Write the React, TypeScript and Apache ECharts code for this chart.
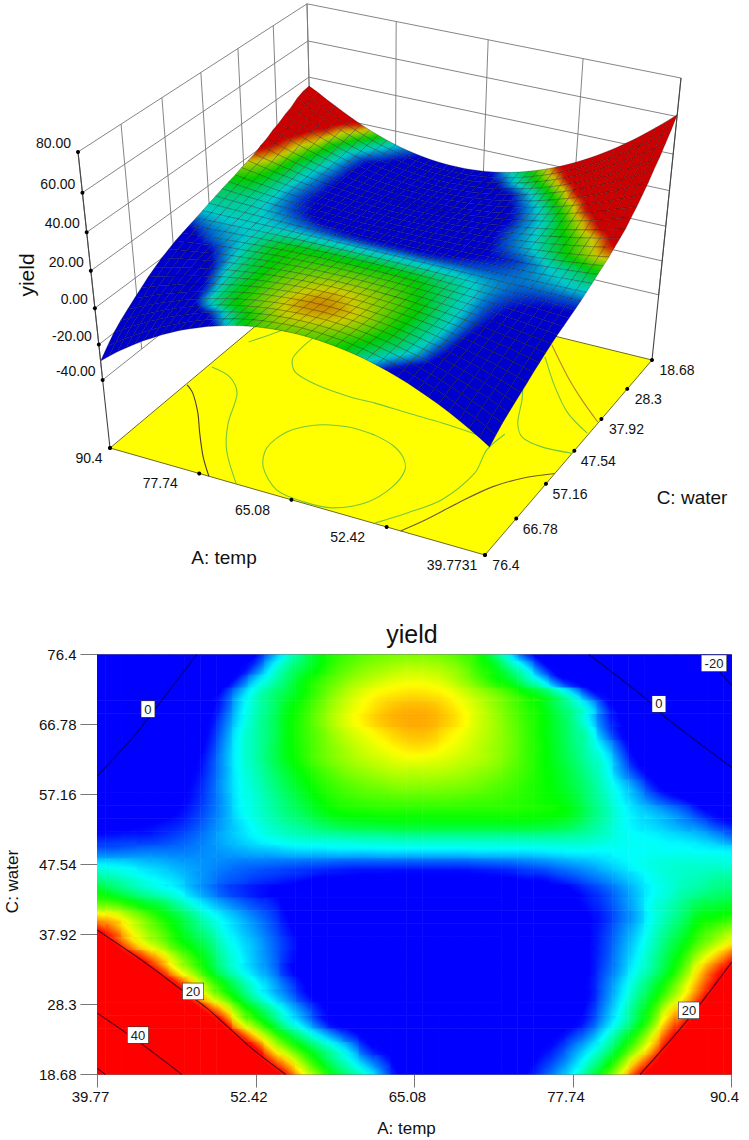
import React, { useEffect, useRef } from "react";
import * as echarts from "echarts";

// Axis ticks
const tempTicks = [39.77, 52.42, 65.08, 77.74, 90.4];
const waterTicks = [18.68, 28.3, 37.92, 47.54, 57.16, 66.78, 76.4];
const yieldTicks = [-40, -20, 0, 20, 40, 60, 80];
const tempTicks3D = ["39.7731", "52.42", "65.08", "77.74", "90.4"];
const tempLabelDx = [-33, -39, -39, -39, -21];
const waterLabelDx = [25, 21, 25, 24, 24, 24, 21];

// one column per temperature, from 39.77 to 90.4.
const shadeRows = [
[61,57,53,49.2,45.4,41.6,38,34.6,31.2,28,25,22.2,19.4,16.3,14,11.9,10.4,9.1,7,5,4.4,3.9,3.5,3.3,3.4,3.7,4.2,5,6,7.3,8.75,10.8,13.1,15.9,19.4,22,24.5,27,29.6,32.3,35],
[56.4,52.6,48.9,45.3,41.8,38.3,34.9,31.6,28.4,25.4,22.4,19.3,16.9,14.4,12.3,10.5,9,7.3,5.9,4.5,4,3.6,3.3,3.2,3.3,3.5,3.9,4.6,5.4,6.4,7.8,9.5,11.5,14,17,19.7,22.6,25.1,27.7,30.3,33.3],
[51.8,48.2,44.8,41.5,38.2,35,31.8,28.7,25.6,22.8,19.9,16.5,14.3,12.4,10.7,9.2,7.6,5.6,4.7,4.1,3.7,3.4,3.2,3.1,3.2,3.4,3.7,4.2,4.8,5.6,6.9,8.3,10,12.2,14.6,17.4,20.8,23.3,25.8,28.4,31.6],
[47.2,43.9,40.7,37.6,34.6,31.6,28.7,25.8,22.7,19.5,16.6,14,11.9,10.1,8.4,6.9,5.6,4.6,4,3.6,3.4,3.2,3.1,3,3,3.2,3.4,3.8,4.2,4.8,5.8,7,8.8,10.8,13,15.7,19.1,21.4,24,26.7,29.8],
[42.5,39.6,36.6,33.7,31,28.3,25.6,22.8,19.7,15.8,13.6,11.5,9.4,7.8,6,4.6,4,3.6,3.3,3.2,3.2,3.1,3.1,3.1,3.1,3.1,3.2,3.3,3.5,4,4.7,5.8,7.6,9.4,11.5,14,17.4,19.6,22.3,25.1,28],
[39,36.5,33.7,31,28.4,25.6,22.3,19.3,16.7,13.7,11.7,9.9,8.2,6.7,5.3,4.3,3.9,3.6,3.3,3.2,3.2,3.2,3.2,3.2,3.2,3.2,3.3,3.4,3.7,4,4.5,5.4,7.1,8.9,10.9,13,15.8,18,20.6,23.2,26.1],
[36,33.4,30.9,28.4,25.8,22.9,19,15.8,13.7,11.6,9.7,8.2,6.9,5.5,4.6,4,3.7,3.5,3.3,3.2,3.2,3.2,3.2,3.2,3.2,3.2,3.2,3.3,3.5,3.9,4.4,5.1,6.7,8.4,10.2,12,14.1,16.3,18.9,21.3,24.2],
[33,30.2,27.6,25,22.4,19.6,16.8,14.1,12.1,10.3,8.8,7.6,6.2,5,4.4,4,3.7,3.5,3.3,3.3,3.2,3.2,3.2,3.2,3.2,3.2,3.2,3.4,3.6,4,4.4,5.1,6.5,8,9.6,11.2,13,15.2,17.8,20.1,22.3],
[29.5,27,24.2,21.5,19,16.3,14.3,12.3,10.4,9,7.9,6.9,5.4,4.6,4.2,3.9,3.7,3.5,3.4,3.3,3.3,3.3,3.3,3.3,3.3,3.3,3.3,3.5,3.7,4,4.4,5,6.2,7.5,9,10.3,12,14,16.7,18.9,20.7],
[26.3,23.7,21,18.7,16.8,14.7,13.1,11.6,9.9,8.7,7.7,6.7,5.5,4.7,4.2,3.9,3.7,3.5,3.4,3.3,3.3,3.3,3.3,3.3,3.3,3.3,3.3,3.5,3.7,4,4.4,5,6,7.3,8.6,10,11.5,13.1,15.2,17,18.9],
[23,20.3,17.7,15.9,14.6,13.1,12,10.9,9.4,8.4,7.6,6.6,5.6,4.8,4.3,3.9,3.7,3.5,3.4,3.3,3.3,3.3,3.3,3.3,3.3,3.3,3.4,3.6,3.8,4.1,4.5,5,5.9,7.1,8.3,9.6,11,12.3,13.8,15.1,16.5],
[20,18.4,16.4,14.9,13.7,12.4,11.2,10.1,8.9,8,7.2,6.3,5.3,4.6,4.2,3.8,3.6,3.5,3.4,3.4,3.4,3.4,3.4,3.4,3.4,3.4,3.5,3.6,3.8,4.15,4.5,5,5.75,6.85,7.95,9.3,10.5,11.65,13,13.85,14.75],
[17,16.5,15.2,14,12.8,11.7,10.5,9.3,8.4,7.6,6.8,6,5,4.5,4.1,3.8,3.6,3.5,3.4,3.4,3.4,3.4,3.4,3.4,3.4,3.5,3.6,3.7,3.9,4.2,4.5,5,5.6,6.6,7.6,9,10,11,12.2,12.6,13],
[14,13.7,12.9,12,11.3,10.2,9.1,8.1,7.3,6.6,6,5.5,4.8,4.4,4.1,3.9,3.7,3.6,3.5,3.5,3.5,3.5,3.5,3.5,3.5,3.6,3.7,3.8,4,4.4,4.8,5.3,5.9,6.8,7.8,9,9.7,10.5,11.3,11.6,11.9],
[12.2,11.4,10.6,9.9,9.3,8.75,7.8,7,6.2,5.7,5.3,5,4.6,4.3,4,3.9,3.8,3.7,3.6,3.6,3.6,3.6,3.6,3.6,3.6,3.7,3.7,3.8,4,4.5,5,5.6,6.2,7,7.9,8.75,9.3,9.9,10.3,10.7,10.9],
[10.3,9.9,9.4,8.9,8.5,8.1,7.5,7,6.5,6.2,5.9,5.7,5.5,5.3,5,4.9,4.8,4.7,4.7,4.6,4.6,4.6,4.6,4.6,4.7,4.8,4.9,5.2,5.3,5.7,6.1,6.6,7.1,7.7,8.3,8.9,9.3,9.6,9.8,10.1,10.2],
[8.6,8.5,8.3,8,7.8,7.5,7.3,7.1,6.9,6.7,6.6,6.5,6.4,6.3,6.2,6.1,6,6,6,6,6,6,6,6,6.1,6.2,6.3,6.5,6.7,7,7.3,7.6,8,8.4,8.8,9.1,9.3,9.4,9.4,9.4,9.3],
[6.6,6.6,6.7,6.8,6.8,6.8,6.9,7.1,7.3,7.5,7.7,7.8,8,8.1,8.1,8.2,8.2,8.2,8.3,8.3,8.3,8.3,8.3,8.3,8.4,8.4,8.4,8.4,8.5,8.6,8.7,8.7,8.7,8.8,8.8,8.9,8.9,8.9,8.8,8.7,8.6],
[5.4,5.5,5.6,5.6,5.8,6.1,6.5,7,7.6,8.1,8.6,9,9.3,9.5,9.6,9.7,9.8,9.9,9.9,10,10,10,10,10,10,10,10,10,10,10,9.9,9.7,9.4,9,8.8,8.7,8.5,8.3,8,7.5,6.8],
[4.2,4.5,4.7,4.9,5.2,5.5,6,6.7,7.5,8.3,9,9.6,10.1,10.5,11,11.4,11.6,11.7,11.8,11.9,11.9,11.9,11.9,11.9,11.9,11.9,11.9,11.9,11.8,11.6,11.2,10.5,9.8,9,8.5,8.2,7.8,7.3,6.8,6,5.3],
[3.1,3.5,3.9,4.3,4.6,5,5.6,6.4,7.4,8.6,9.3,10,10.7,11.3,12,12.5,12.7,12.8,12.9,12.9,12.9,12.9,12.9,12.9,12.9,12.9,12.9,12.8,12.7,12.5,12,11,10,9,8.3,7.8,7.2,6.5,5.5,4.6,3.6],
[2.1,2.6,3.3,3.8,4.3,4.8,5.3,6.2,7.4,8.7,9.4,10.2,11,11.8,12.5,13,13.3,13.5,13.6,13.7,13.7,13.7,13.7,13.6,13.5,13.4,13.2,13,12.7,12.4,11.8,10.8,9.8,8.7,7.7,6.6,5.7,5,4.2,3.3,2.3],
[1,1.7,2.6,3.3,3.9,4.5,5.1,6.1,7.5,8.8,9.6,10.5,11.4,12.2,12.9,13.4,13.8,14.1,14.3,14.5,14.5,14.5,14.4,14.3,14.1,13.8,13.5,13.1,12.7,12.2,11.5,10.6,9.5,8.3,7,5.4,4.2,3.4,2.9,1.9,1.3],
[-0.3,1,1.9,2.6,3.3,4,4.8,5.9,7.4,8.9,9.8,10.8,11.8,12.6,13.3,13.9,14.4,14.7,15,15.2,15.2,15.2,15.1,14.9,14.6,14.3,13.8,13.3,12.7,12.1,11.3,10.3,9.2,7.4,5.8,4.5,3.5,2.8,2.2,1.2,0.5],
[-2,0.3,1.1,1.9,2.7,3.5,4.5,5.7,7.4,9,10,11.1,12.2,13,13.8,14.4,14.9,15.3,15.6,15.9,16,15.9,15.7,15.4,15.1,14.7,14.1,13.4,12.7,11.9,11,10,8.9,6.8,4.8,3.6,2.8,2.2,1.6,0.5,-1.3],
[-3.8,-1.2,0.2,1.3,2.3,3.2,4.2,5.4,7.2,9,10,11.1,12.3,13.1,13.9,14.6,15.2,15.7,16.1,16.5,16.7,16.6,16.2,15.8,15.3,14.8,14.2,13.4,12.7,11.8,10.8,9.7,8.1,6,4.2,3.1,2.1,1.1,-0.1,-1.6,-3.9],
[-5.7,-3,-1.1,0.6,1.9,3,4,5.1,6.9,8.9,10,11,12.3,13.2,14,14.9,15.6,16.1,16.6,17,17.2,17.1,16.6,16.1,15.5,14.9,14.2,13.4,12.6,11.7,10.6,9.4,6.9,5.1,3.8,2.5,1.2,-0.3,-2,-4,-6.6],
[-7.7,-5,-2.5,0,1.5,2.7,3.8,4.8,6.5,8.5,9.9,11,12.3,13.2,14.2,15.2,16,16.6,17.1,17.4,17.5,17.4,17,16.4,15.6,14.9,14.1,13.3,12.6,11.6,10.4,8.6,6.2,4.8,3.5,1.9,0.3,-1.8,-4,-6.7,-9.6],
[-9.8,-7,-4.2,-1.6,0.8,2,3,4.4,6,8.2,9.7,10.8,12.1,13,14,15,15.8,16.4,16.9,17.2,17.3,17.2,16.8,16.2,15.5,14.7,13.9,13.1,12.4,11.2,10,8.4,5.9,4,2.1,0.3,-1.7,-4,-6.7,-9.7,-13],
[-11.9,-9.1,-6.3,-3.6,-1,1.2,2.4,4,5.6,7.7,9.4,10.6,11.6,12.6,13.6,14.6,15.4,16,16.4,16.6,16.7,16.6,16.3,15.7,15,14.3,13.5,12.6,11.7,10.2,8.4,6,4.2,2.4,0.2,-1.5,-3.6,-6.3,-9.3,-12.7,-16.4],
[-14,-11.2,-8.4,-5.6,-2.9,0,1.4,2.6,4.2,6,8.2,9.7,11,12.3,13.2,14,14.7,15.2,15.6,15.9,16,15.9,15.5,14.8,13.9,12.9,12,10.4,8.6,6.2,4.4,2.9,1.4,0,-1.8,-3.7,-6,-8.9,-12.3,-15.9,-20],
[-16,-13.2,-10.4,-7.7,-5,-1.7,0.9,2,3.2,4.5,6.3,8.6,10.3,11.5,12.5,13.4,14,14.5,14.8,15.1,15.2,15.1,14.8,14.2,13.2,12.2,10.5,8.6,6,4.2,2.7,1.3,0,-1.8,-3.8,-6.1,-8.9,-12,-15.6,-19.8,-24.5],
[-18,-15.1,-12.2,-9.5,-6.8,-4.1,-1.2,0.6,2,3.6,5,7.2,9.2,10.8,12.2,13,13.5,13.9,14.1,14.3,14.3,14.3,14,13.5,12.8,11,8.5,5.9,4.2,2.9,1.3,-0.1,-1.8,-3.7,-6,-8.9,-12,-15.4,-19.2,-24,-30],
];

// Height of the 3D surface, same rows and columns.
const heightRows = [
[61,56.4,52.1,47.9,43.9,40.2,36.6,33.3,30.1,27.2,24.4,21.9,19.5,17.4,15.5,13.8,12.2,10.9,9.8,8.9,8.2,7.7,7.4,7.3,7.4,7.7,8.2,8.9,9.8,10.9,12.2,13.8,15.5,17.4,19.5,21.9,24.4,27,29.6,32.5,35],
[55.6,51.5,47.5,43.8,40.2,36.8,33.6,30.6,27.7,25.1,22.6,20.3,18.2,16.3,14.6,13,11.7,10.5,9.5,8.7,8.1,7.6,7.4,7.3,7.4,7.7,8.2,8.9,9.7,10.8,12,13.4,15,16.8,18.8,20.9,23.3,25.8,28.5,31.4,34.5],
[51,47.2,43.6,40.2,37,33.9,31,28.3,25.7,23.3,21.1,19,17.1,15.4,13.8,12.4,11.2,10.2,9.3,8.6,8,7.7,7.5,7.5,7.6,7.9,8.4,9,9.9,10.8,12,13.3,14.8,16.5,18.3,20.3,22.5,24.8,27.3,30,32.9],
[46.2,42.8,39.6,36.6,33.7,30.9,28.3,25.9,23.6,21.4,19.4,17.6,15.9,14.4,13,11.8,10.7,9.8,9,8.4,7.9,7.6,7.4,7.4,7.5,7.8,8.2,8.8,9.6,10.5,11.5,12.7,14.1,15.6,17.2,19,21,23.1,25.4,27.8,30.4],
[42.3,39.2,36.3,33.6,31,28.5,26.2,24,21.9,20,18.2,16.5,15,13.7,12.4,11.3,10.4,9.5,8.8,8.3,7.9,7.6,7.5,7.5,7.7,8,8.4,9,9.7,10.5,11.5,12.6,13.9,15.2,16.8,18.4,20.2,22.2,24.2,26.4,28.8],
[38,35.3,32.8,30.4,28.1,25.9,23.8,21.9,20.1,18.4,16.8,15.4,14,12.8,11.8,10.8,10,9.3,8.7,8.2,7.9,7.7,7.6,7.6,7.7,8,8.4,8.9,9.5,10.3,11.1,12.1,13.3,14.5,15.9,17.3,19,20.7,22.5,24.5,26.6],
[34.2,31.9,29.7,27.5,25.5,23.6,21.8,20.1,18.5,17,15.7,14.4,13.2,12.2,11.3,10.4,9.7,9.1,8.6,8.2,7.9,7.7,7.7,7.7,7.9,8.1,8.5,9,9.5,10.2,11,11.9,12.9,14.1,15.3,16.6,18.1,19.7,21.3,23.1,25],
[30.6,28.6,26.7,24.8,23.1,21.4,19.9,18.4,17,15.7,14.5,13.4,12.4,11.5,10.7,10,9.4,8.9,8.4,8.1,7.8,7.7,7.7,7.7,7.8,8.1,8.4,8.8,9.3,9.9,10.6,11.4,12.3,13.3,14.3,15.5,16.8,18.1,19.6,21.1,22.8],
[27.6,25.8,24.1,22.5,21,19.6,18.3,17,15.8,14.7,13.7,12.8,11.9,11.2,10.5,9.9,9.3,8.9,8.5,8.2,8,7.9,7.9,7.9,8,8.3,8.6,8.9,9.4,9.9,10.6,11.3,12,12.9,13.9,14.9,16,17.2,18.5,19.8,21.3],
[24.2,22.7,21.3,20,18.8,17.6,16.5,15.4,14.5,13.6,12.7,12,11.3,10.7,10.1,9.6,9.2,8.8,8.5,8.3,8.1,8,8,8.1,8.2,8.4,8.6,9,9.3,9.8,10.3,10.9,11.6,12.3,13.1,14,14.9,15.9,17,18.1,19.3],
[22,20.7,19.5,18.4,17.3,16.3,15.4,14.5,13.6,12.9,12.2,11.5,10.9,10.4,9.9,9.5,9.1,8.8,8.6,8.4,8.3,8.2,8.2,8.2,8.3,8.5,8.7,9,9.4,9.8,10.2,10.8,11.3,12,12.7,13.5,14.3,15.1,16.1,17.1,18.1],
[19.9,18.8,17.8,16.9,16,15.1,14.3,13.6,12.9,12.2,11.6,11.1,10.6,10.1,9.7,9.4,9.1,8.8,8.6,8.5,8.4,8.3,8.3,8.4,8.5,8.6,8.8,9.1,9.4,9.8,10.2,10.6,11.1,11.7,12.3,12.9,13.6,14.4,15.2,16,16.9],
[17.6,16.8,16,15.2,14.5,13.8,13.2,12.6,12.1,11.5,11.1,10.6,10.2,9.9,9.6,9.3,9.1,8.9,8.7,8.6,8.5,8.5,8.5,8.5,8.6,8.7,8.9,9.1,9.4,9.6,10,10.3,10.7,11.2,11.7,12.2,12.8,13.4,14,14.7,15.4],
[15.9,15.2,14.6,14,13.4,12.9,12.4,11.9,11.5,11.1,10.7,10.3,10,9.7,9.5,9.3,9.1,9,8.8,8.7,8.7,8.7,8.7,8.7,8.8,8.9,9,9.2,9.4,9.6,9.9,10.2,10.5,10.9,11.3,11.7,12.1,12.6,13.2,13.7,14.3],
[14.2,13.7,13.2,12.8,12.4,12,11.6,11.2,10.9,10.6,10.3,10.1,9.9,9.6,9.5,9.3,9.2,9.1,9,8.9,8.9,8.9,8.9,8.9,9,9,9.1,9.3,9.4,9.6,9.8,10,10.3,10.6,10.8,11.2,11.5,11.9,12.3,12.7,13.1],
[12.4,12.1,11.8,11.5,11.2,11,10.7,10.5,10.3,10.1,10,9.8,9.7,9.5,9.4,9.3,9.2,9.2,9.1,9.1,9.1,9.1,9.1,9.1,9.1,9.2,9.3,9.3,9.4,9.5,9.7,9.8,10,10.2,10.3,10.5,10.8,11,11.2,11.5,11.8],
[10.7,10.5,10.4,10.3,10.2,10.1,10,9.9,9.8,9.7,9.6,9.6,9.5,9.5,9.4,9.4,9.3,9.3,9.3,9.3,9.3,9.3,9.3,9.3,9.3,9.3,9.4,9.4,9.4,9.5,9.5,9.6,9.7,9.7,9.8,9.9,10,10.1,10.2,10.3,10.5],
[9,9.1,9.1,9.2,9.2,9.3,9.3,9.3,9.4,9.4,9.4,9.4,9.4,9.5,9.5,9.5,9.5,9.5,9.5,9.5,9.5,9.5,9.5,9.5,9.5,9.5,9.5,9.5,9.4,9.4,9.4,9.4,9.4,9.3,9.3,9.3,9.3,9.2,9.2,9.2,9.1],
[7.6,7.8,8,8.2,8.4,8.5,8.7,8.8,8.9,9.1,9.2,9.3,9.4,9.4,9.5,9.6,9.6,9.7,9.7,9.7,9.7,9.7,9.7,9.7,9.7,9.6,9.6,9.5,9.5,9.4,9.3,9.2,9.1,9,8.8,8.7,8.5,8.4,8.2,8,7.8],
[6.2,6.6,6.9,7.3,7.6,7.8,8.1,8.4,8.6,8.8,9,9.2,9.3,9.5,9.6,9.7,9.8,9.9,9.9,10,10,10,10,9.9,9.9,9.8,9.7,9.6,9.5,9.3,9.2,9,8.8,8.6,8.3,8.1,7.8,7.5,7.2,6.9,6.5],
[4.9,5.4,5.9,6.4,6.8,7.2,7.6,8,8.3,8.6,8.9,9.1,9.4,9.6,9.7,9.9,10,10.1,10.2,10.2,10.2,10.2,10.2,10.1,10.1,10,9.8,9.7,9.5,9.3,9,8.8,8.5,8.1,7.8,7.4,7,6.6,6.2,5.7,5.2],
[3.6,4.3,4.9,5.5,6.1,6.6,7.1,7.6,8,8.4,8.8,9.1,9.4,9.7,9.9,10.1,10.2,10.4,10.4,10.5,10.5,10.5,10.5,10.4,10.3,10.1,9.9,9.7,9.5,9.2,8.9,8.5,8.1,7.7,7.3,6.8,6.2,5.7,5.1,4.5,3.8],
[2,2.9,3.7,4.4,5.2,5.9,6.5,7.1,7.6,8.1,8.6,9,9.4,9.7,10,10.3,10.5,10.6,10.7,10.8,10.8,10.8,10.7,10.6,10.5,10.3,10,9.7,9.4,9,8.6,8.1,7.6,7.1,6.5,5.9,5.2,4.4,3.7,2.9,2],
[0.4,1.5,2.5,3.4,4.3,5.1,5.9,6.6,7.3,7.9,8.5,9,9.4,9.8,10.2,10.5,10.7,10.9,11,11.1,11.1,11.1,11,10.8,10.6,10.4,10.1,9.7,9.3,8.9,8.3,7.8,7.1,6.5,5.7,4.9,4.1,3.2,2.3,1.2,0.2],
[-1.5,-0.2,1,2.2,3.2,4.2,5.2,6,6.9,7.6,8.3,8.9,9.4,9.9,10.3,10.7,10.9,11.2,11.3,11.4,11.4,11.4,11.2,11.1,10.8,10.5,10.1,9.7,9.2,8.6,7.9,7.2,6.5,5.6,4.7,3.7,2.7,1.6,0.4,-0.8,-2.1],
[-3.3,-1.8,-0.4,1,2.2,3.4,4.5,5.5,6.5,7.4,8.1,8.8,9.5,10,10.5,10.9,11.2,11.5,11.6,11.7,11.7,11.6,11.5,11.3,11,10.6,10.1,9.6,9,8.3,7.5,6.7,5.7,4.7,3.7,2.5,1.2,-0.1,-1.5,-2.9,-4.5],
[-5.4,-3.6,-2,-0.4,1.1,2.4,3.7,4.9,6,7,8,8.7,9.5,10.1,10.7,11.1,11.5,11.8,12,12,12,11.9,11.8,11.5,11.1,10.6,10.1,9.5,8.7,7.9,6.9,5.9,4.8,3.6,2.3,1,-0.5,-2.1,-3.7,-5.5,-7.4],
[-7.4,-5.4,-3.5,-1.8,-0.1,1.5,3,4.3,5.6,6.7,7.8,8.7,9.5,10.3,10.9,11.4,11.8,12.1,12.3,12.4,12.4,12.3,12,11.7,11.2,10.7,10.1,9.3,8.4,7.4,6.4,5.2,3.9,2.5,1.1,-0.6,-2.3,-4.1,-6,-8.1,-10.2],
[-9.3,-7.1,-5,-3,-1.1,0.7,2.3,3.8,5.3,6.5,7.7,8.7,9.6,10.5,11.1,11.7,12.2,12.5,12.7,12.8,12.7,12.6,12.3,11.9,11.4,10.7,10,9.1,8.1,7,5.7,4.4,2.9,1.3,-0.4,-2.3,-4.2,-6.3,-8.5,-10.8,-13.2],
[-11.2,-8.7,-6.4,-4.2,-2.1,-0.2,1.7,3.4,5,6.4,7.6,8.8,9.8,10.6,11.4,12,12.5,12.8,13.1,13.1,13.1,12.9,12.5,12.1,11.5,10.8,9.9,9,7.8,6.6,5.1,3.6,1.9,0.1,-1.8,-3.9,-6.1,-8.5,-10.9,-13.5,-16.2],
[-13.4,-10.6,-8,-5.5,-3.2,-1.1,1,2.9,4.6,6.2,7.5,8.8,9.9,10.9,11.7,12.4,12.9,13.2,13.4,13.5,13.4,13.2,12.8,12.3,11.6,10.7,9.8,8.6,7.4,5.9,4.3,2.6,0.7,-1.4,-3.5,-5.9,-8.4,-11,-13.8,-16.7,-19.8],
[-16.1,-13,-10.1,-7.3,-4.7,-2.3,0,2.1,4,5.7,7.4,8.7,10,11.1,11.9,12.7,13.2,13.6,13.8,13.9,13.8,13.5,13,12.4,11.6,10.6,9.5,8.1,6.7,5.1,3.2,1.2,-1,-3.3,-5.8,-8.5,-11.3,-14.3,-17.5,-20.8,-24.4],
[-18.9,-15.4,-12.1,-9,-6.1,-3.4,-1,1.3,3.5,5.4,7.2,8.7,10.1,11.3,12.2,13,13.6,14,14.3,14.3,14.1,13.8,13.2,12.5,11.6,10.5,9.2,7.6,6,4,2,-0.2,-2.7,-5.3,-8.2,-11.1,-14.4,-17.8,-21.3,-25.2,-29.2],
];

// Contours of the flat map, as [temp, water]
const contour0Left = [[39.8,59.8],[42.6,65],[43.7,67.4],[47.7,76.4]];
const contour0Right = [[79,76.4],[83.5,70.4],[85.1,67.8],[90.4,60.9]];
const contourMinus20 = [[88.2,76.4],[90.4,72.2]];
const contour20Left = [[39.77,38.5],[43.7,33.9],[46.5,30.3],[48.5,27.8],[52,22.4],[54.8,18.68]];
const contour40 = [[39.77,27.1],[43.2,23],[46.5,18.68]];
const contour60 = [[39.77,19.5],[40.4,18.68]];
const contour20Right = [[83.1,18.68],[87,26.4],[90.4,34.1]];
const contourLabels = [[43.8,68.9,"0"],[84.6,69.6,"0"],[89,75.2,"-20"],[47.4,30.1,"20"],[43,24.1,"40"],[87,27.5,"20"]];

// Contours on the floor of the 3D box, as [temp, water]
const floorZeroFront = [[76.4,76.4],[79.3,72.5],[82.6,67.3],[85.3,62.8],[88.5,58.3],[90.2,56.7]];
const floorBack = [[72.6,76.4],[77.6,69.5],[80.7,63.2],[83.5,55.4],[86.4,51.9],[89.8,50.6]];
const floorLoop = [[63.2,56.6],[66.8,56.3],[70.7,57.9],[73.2,61.5],[73.5,66.5],[71.7,71],[67.7,75.2],[63.8,76.1],[59.9,75.6],[56.9,72.3],[55.8,67.4],[56.2,62.8],[57.8,59.9],[60.2,57.8],[63.2,56.6]];
const floorMiddle = [[82,36.1],[81.7,42.8],[79.6,46.3],[75.5,48.1],[70.3,48.9],[66.8,48.8],[62,49.1],[57.1,49.3],[52.7,49.8],[50,50.5]];
const floorShort = [[89,41.6],[87,36.9],[85,31]];
const floorFrontRight = [[49,48],[49.4,53],[48.4,59.1],[49.3,67.2],[51.6,72.1],[54,76.3]];
const floorZeroRight = [[50.6,76.4],[49.1,72.6],[47.3,66.9],[45.2,61.2],[42.6,57.1],[39.77,54.2]];
const floorSideA = [[39.8,48.3],[43.7,48.7],[46.8,47.6],[48.7,44.4],[50.6,38.3],[52.1,34.3]];
const floorSideB = [[40,42.4],[44.1,38.6],[48.2,32.7],[52.6,25.2]];
const floorSideC = [[39.9,38.9],[43.8,34.3],[47.8,29.1],[53.1,21.4]];

const GREEN = "#74c63c";
const floorContours: [number[][], string][] = [
  [floorZeroFront, "#4a4030"], [floorBack, GREEN], [floorLoop, GREEN], [floorMiddle, GREEN],
  [floorShort, GREEN], [floorFrontRight, GREEN], [floorZeroRight, "#6b5a30"],
  [floorSideA, GREEN], [floorSideB, GREEN], [floorSideC, "#b8862a"],
];

const TEMP_MIN = 39.77, TEMP_MAX = 90.4, WATER_MIN = 18.68, WATER_MAX = 76.4, FLOOR = -80;
const nCols = shadeRows[0].length, nRows = shadeRows.length;
const tempAt = (i: number) => TEMP_MIN + (i * (TEMP_MAX - TEMP_MIN)) / (nCols - 1);
const waterAt = (j: number) => WATER_MIN + (j * (WATER_MAX - WATER_MIN)) / (nRows - 1);

// Camera of the 3D box
const CAM = [
  [344.35, 248.18, -40.18, 110],
  [71.93, -132.03, -312, 448],
  [-0.06319, 0.14069, -0.1049, 1],
];
function project(a: number, c: number, z: number): number[] {
  const u = (TEMP_MAX - a) / (TEMP_MAX - TEMP_MIN);
  const v = (WATER_MAX - c) / (WATER_MAX - WATER_MIN);
  const w = (z - FLOOR) / 160;
  const h = (r: number[]) => r[0] * u + r[1] * v + r[2] * w + r[3];
  const d = h(CAM[2]);
  return [h(CAM[0]) / d, h(CAM[1]) / d];
}

// Colour scale
const STOPS = [[0, 0, 255], [0, 255, 255], [0, 255, 0], [255, 255, 0], [255, 0, 0]];
function colorOf(z: number, shade = 1): string {
  const t = Math.max(0, Math.min(3.9999, ((z - 5) / 15) * 4));
  const k = Math.floor(t), f = t - k;
  const c = STOPS[k].map((s, n) => Math.round((s + (STOPS[k + 1][n] - s) * f) * shade));
  return `rgb(${c[0]},${c[1]},${c[2]})`;
}

// A fill that follows the local slope of the level inside one cell: the cell keeps its
// value at its centre and its edges agree with its neighbours.
function slopeFill(cx: number, cy: number, z: number, gx: number, gy: number, halfW: (nx: number, ny: number) => number, shade: number): any {
  const mag = Math.hypot(gx, gy);
  if (mag < 1e-6) return colorOf(z, shade);
  const nx = gx / mag, ny = gy / mag, L = halfW(nx, ny);
  if (mag * L < 0.03) return colorOf(z, shade);
  const colorStops = [0, 0.25, 0.5, 0.75, 1].map((t) => ({ offset: t, color: colorOf(z + (2 * t - 1) * mag * L, shade) }));
  return { type: "linear", global: true, x: cx - nx * L, y: cy - ny * L, x2: cx + nx * L, y2: cy + ny * L, colorStops };
}

const FONT = '"Liberation Sans", Arial, sans-serif';
const INK = "#111";

function buildOption(): any {
  const cellData: number[][] = [];
  shadeRows.forEach((row, j) => row.forEach((z, i) => cellData.push([tempAt(i), waterAt(j), z, i, j])));
  const dA = (TEMP_MAX - TEMP_MIN) / (nCols - 1), dC = (WATER_MAX - WATER_MIN) / (nRows - 1);

  const surfaceData: number[][] = [];
  for (let j = 0; j < nRows - 1; j++) for (let i = nCols - 2; i >= 0; i--) surfaceData.push([i, j]);

  const wallSegments: number[][] = [];
  waterTicks.forEach((c) => wallSegments.push([TEMP_MAX, c, -40, TEMP_MAX, c, 80]));
  tempTicks.forEach((a) => wallSegments.push([a, WATER_MIN, -40, a, WATER_MIN, 80]));
  yieldTicks.forEach((z) => {
    wallSegments.push([TEMP_MAX, WATER_MAX, z, TEMP_MAX, WATER_MIN, z]);
    wallSegments.push([TEMP_MAX, WATER_MIN, z, TEMP_MIN, WATER_MIN, z]);
  });
  const axisSegments = [
    [TEMP_MAX, WATER_MAX, FLOOR, TEMP_MAX, WATER_MAX, 80],
    [TEMP_MIN, WATER_MIN, FLOOR, TEMP_MIN, WATER_MIN, 80],
  ];
  const dots: number[][] = [
    ...yieldTicks.map((z) => [TEMP_MAX, WATER_MAX, z]),
    ...tempTicks.map((a) => [a, WATER_MAX, FLOOR]),
    ...waterTicks.map((c) => [TEMP_MIN, c, FLOOR]),
    [TEMP_MAX, WATER_MAX, FLOOR],
  ];

  const lineItem = (color: string, width: number) => (_: any, api: any) => {
    const p = project(api.value(0), api.value(1), api.value(2));
    const q = project(api.value(3), api.value(4), api.value(5));
    return { type: "line", shape: { x1: p[0], y1: p[1], x2: q[0], y2: q[1] }, style: { stroke: color, lineWidth: width } };
  };

  const text = (t: string, x: number, y: number, size: number, rotation = 0, align = "center") => ({
    type: "text", x, y, rotation, silent: true,
    style: { text: t, x: 0, y: 0, fill: INK, font: `${size}px ${FONT}`, align, verticalAlign: "middle" },
  });

  const graphics: any[] = [
    ...yieldTicks.map((z) => {
      const p = project(TEMP_MAX, WATER_MAX, z);
      return text(z.toFixed(2), p[0] - 7, p[1] - 9, 14, 0, "right");
    }),
    ...tempTicks.map((a, n) => {
      const p = project(a, WATER_MAX, FLOOR);
      return text(tempTicks3D[n], p[0] + tempLabelDx[n], p[1] + 10, 14);
    }),
    ...waterTicks.map((c, n) => {
      const p = project(TEMP_MIN, c, FLOOR);
      return text(String(c), p[0] + waterLabelDx[n], p[1] + 10, 14);
    }),
    text("yield", 26, 275, 21, Math.PI / 2),
    text("A: temp", 224, 557, 19),
    text("C: water", 692, 497, 19),
  ];

  const lineSeries = (data: number[][]) => ({
    type: "line", data, smooth: 0.3, showSymbol: false, symbol: "none", silent: true, z: 3, clip: true,
    lineStyle: { color: "rgba(0,0,50,0.62)", width: 1.2 },
  });

  return {
    animation: false,
    backgroundColor: "#fff",
    title: {
      text: "yield", left: 407, top: 616, textAlign: "center",
      textStyle: { fontFamily: FONT, fontSize: 25, fontWeight: "normal", color: INK },
    },
    grid: { left: 97.5, top: 654.5, width: 634, height: 420, outerBoundsMode: "none", containLabel: false, show: true, borderColor: "#777", borderWidth: 1, backgroundColor: "transparent" },
    xAxis: {
      type: "value", min: TEMP_MIN, max: TEMP_MAX, splitLine: { show: false },
      name: "A: temp", nameLocation: "middle", nameGap: 45,
      nameTextStyle: { fontFamily: FONT, fontSize: 17, color: INK, padding: [0, 16, 0, 0] },
      axisLine: { lineStyle: { color: "#777" } },
      axisTick: { length: 13, customValues: tempTicks, lineStyle: { color: "#777" } },
      axisLabel: { customValues: tempTicks, formatter: (v: number) => String(v), margin: 14, padding: [0, 14, 0, 0], fontFamily: FONT, fontSize: 15, color: INK, hideOverlap: false },
    },
    yAxis: {
      type: "value", min: WATER_MIN, max: WATER_MAX, splitLine: { show: false },
      name: "C: water", nameLocation: "middle", nameGap: 77, nameRotate: 90,
      nameTextStyle: { fontFamily: FONT, fontSize: 17, color: INK, padding: [0, 34, 0, 0] },
      axisLine: { lineStyle: { color: "#777" } },
      axisTick: { length: 17, customValues: waterTicks, lineStyle: { color: "#777" } },
      axisLabel: { customValues: waterTicks, formatter: (v: number) => String(v), margin: 21, fontFamily: FONT, fontSize: 15, color: INK, hideOverlap: false },
    },
    graphic: graphics,
    series: [
      // Flat map
      {
        type: "custom", name: "map", coordinateSystem: "cartesian2d", data: cellData, silent: true, clip: true, z: 1,
        encode: { x: 0, y: 1 },
        renderItem: (_: any, api: any) => {
          const a = api.value(0), c = api.value(1), z = api.value(2), i = api.value(3), j = api.value(4);
          const p = api.coord([a - dA / 2, c + dC / 2]);
          const q = api.coord([a + dA / 2, c - dC / 2]);
          const w = q[0] - p[0], h = q[1] - p[1];
          const row = shadeRows[j];
          const il = Math.max(0, i - 1), ir = Math.min(nCols - 1, i + 1);
          const jd = Math.max(0, j - 1), ju = Math.min(nRows - 1, j + 1);
          const gx = (row[ir] - row[il]) / ((ir - il) * w);
          const gy = -(shadeRows[ju][i] - shadeRows[jd][i]) / ((ju - jd) * h);
          const fill = slopeFill((p[0] + q[0]) / 2, (p[1] + q[1]) / 2, z, gx, gy, (nx, ny) => Math.abs(nx) * w / 2 + Math.abs(ny) * h / 2, 1);
          return { type: "rect", shape: { x: p[0] - 0.25, y: p[1] - 0.25, width: w + 0.5, height: h + 0.5 }, style: { fill } };
        },
      },
      lineSeries(contour0Left), lineSeries(contour0Right), lineSeries(contourMinus20),
      lineSeries(contour20Left), lineSeries(contour40), lineSeries(contour60), lineSeries(contour20Right),
      {
        type: "scatter", symbolSize: 1, silent: true, z: 5, data: contourLabels, itemStyle: { opacity: 1, color: "transparent" },
        label: {
          show: true, position: "inside", opacity: 1, formatter: (p: any) => p.value[2], color: "#222", fontFamily: FONT, fontSize: 13,
          backgroundColor: "#fff", borderColor: "#333", borderWidth: 0.6, padding: [2, 3, 1, 3],
        },
      },
      // 3D box
      { type: "custom", coordinateSystem: "none", silent: true, z: 1, data: wallSegments, renderItem: lineItem("#777", 0.9) },
      {
        type: "custom", coordinateSystem: "none", silent: true, z: 2, data: [[0]],
        renderItem: () => {
          const pts = [[TEMP_MAX, WATER_MAX], [TEMP_MIN, WATER_MAX], [TEMP_MIN, WATER_MIN], [TEMP_MAX, WATER_MIN]].map((p) => project(p[0], p[1], FLOOR));
          return { type: "polygon", shape: { points: pts }, style: { fill: "#ffff00", stroke: "#6d6a24", lineWidth: 1 } };
        },
      },
      {
        type: "custom", coordinateSystem: "none", silent: true, z: 3, data: floorContours.map((_, n) => [n]),
        renderItem: (_: any, api: any) => {
          const [pts, color] = floorContours[api.value(0)];
          return {
            type: "polyline",
            shape: { points: pts.map((p) => project(p[0], p[1], FLOOR)), smooth: 0.3 },
            style: { stroke: color, fill: "none", lineWidth: 1.1 },
          };
        },
      },
      {
        type: "custom", coordinateSystem: "none", silent: true, z: 4, data: surfaceData,
        renderItem: (_: any, api: any) => {
          const i = api.value(0), j = api.value(1);
          const corners = [[i, j], [i + 1, j], [i + 1, j + 1], [i, j + 1]];
          const pts = corners.map(([m, n]) => project(tempAt(m), waterAt(n), heightRows[n][m]));
          const vals = corners.map(([m, n]) => shadeRows[n][m]);
          const mean = (vals[0] + vals[1] + vals[2] + vals[3]) / 4;
          const cx = (pts[0][0] + pts[1][0] + pts[2][0] + pts[3][0]) / 4;
          const cy = (pts[0][1] + pts[1][1] + pts[2][1] + pts[3][1]) / 4;
          // Image-space slope of the level over this cell
          const e1x = (pts[1][0] + pts[2][0] - pts[0][0] - pts[3][0]) / 2, e1y = (pts[1][1] + pts[2][1] - pts[0][1] - pts[3][1]) / 2;
          const e2x = (pts[3][0] + pts[2][0] - pts[0][0] - pts[1][0]) / 2, e2y = (pts[3][1] + pts[2][1] - pts[0][1] - pts[1][1]) / 2;
          const d1 = (vals[1] + vals[2] - vals[0] - vals[3]) / 2, d2 = (vals[3] + vals[2] - vals[0] - vals[1]) / 2;
          const det = e1x * e2y - e1y * e2x;
          const gx = Math.abs(det) > 1e-3 ? (d1 * e2y - d2 * e1y) / det : 0;
          const gy = Math.abs(det) > 1e-3 ? (e1x * d2 - e2x * d1) / det : 0;
          const fill = slopeFill(cx, cy, mean, gx, gy, (nx, ny) => Math.max(...pts.map((p) => Math.abs((p[0] - cx) * nx + (p[1] - cy) * ny))), 0.8);
          return { type: "polygon", shape: { points: pts }, style: { fill, stroke: "rgba(0,0,0,0.42)", lineWidth: 0.6 } };
        },
      },
      { type: "custom", coordinateSystem: "none", silent: true, z: 5, data: axisSegments, renderItem: lineItem("#444", 1.1) },
      {
        type: "custom", coordinateSystem: "none", silent: true, z: 6, data: dots,
        renderItem: (_: any, api: any) => {
          const p = project(api.value(0), api.value(1), api.value(2));
          return { type: "circle", shape: { cx: p[0], cy: p[1], r: 2 }, style: { fill: "#000" } };
        },
      },
    ],
  };
}

export default function App() {
  const ref = useRef<HTMLDivElement>(null);
  useEffect(() => {
    const chart = echarts.init(ref.current!, undefined, { renderer: "svg" });
    chart.setOption(buildOption());
    return () => chart.dispose();
  }, []);
  return <div ref={ref} style={{ position: "absolute", left: 0, top: 0, width: 749, height: 1140 }} />;
}
